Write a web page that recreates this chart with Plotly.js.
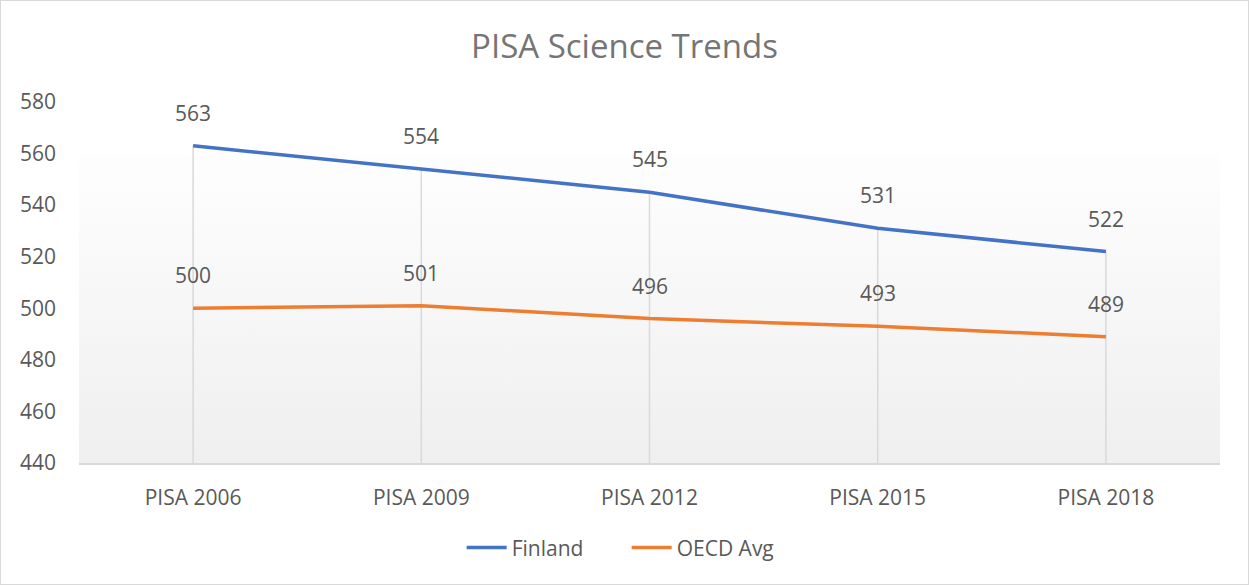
<!DOCTYPE html>
<html>
<head>
<meta charset="utf-8">
<script src="https://cdn.plot.ly/plotly-3.0.1.min.js"></script>
<style>
html,body{margin:0;padding:0;background:#fff;}
#chart{width:1247px;height:583px;border:1px solid #d9d9d9;}
</style>
</head>
<body>
<div id="chart"></div>
<script>
const categories = ["PISA 2006", "PISA 2009", "PISA 2012", "PISA 2015", "PISA 2018"];
const finland = [563, 554, 545, 531, 522];
const oecdAvg = [500, 501, 496, 493, 489];
const yTicks = [440, 460, 480, 500, 520, 540, 560, 580];

const FONT = "Open Sans, Noto Sans, sans-serif";
const LABEL = "#595959";
const yMin = 440, yMax = 580;

const traces = [
  {x: categories, y: finland, name: "Finland", type: "scatter", mode: "lines",
   line: {color: "#4472C4", width: 3.5}, hoverinfo: "y"},
  {x: categories, y: oecdAvg, name: "OECD Avg", type: "scatter", mode: "lines",
   line: {color: "#ED7D31", width: 3.5}, hoverinfo: "y"}
];

const shapes = categories.map((c, i) => ({
  type: "line", xref: "x", yref: "y", x0: c, x1: c, y0: yMin,
  y1: Math.max(finland[i], oecdAvg[i]),
  line: {color: "#d9d9d9", width: 1.5}, layer: "below"
}));

const annotations = [];
[finland, oecdAvg].forEach(series => {
  series.forEach((v, i) => {
    annotations.push({x: categories[i], y: v, xref: "x", yref: "y", text: String(v),
      showarrow: false, yshift: 33, font: {family: FONT, size: 21, color: LABEL}});
  });
});

const grad = 'data:image/svg+xml;utf8,' + encodeURIComponent(
  '<svg xmlns="http://www.w3.org/2000/svg" width="100" height="100" preserveAspectRatio="none">' +
  '<defs><linearGradient id="g" x1="0" y1="0" x2="0" y2="1">' +
  '<stop offset="0" stop-color="#fefefe"/><stop offset="1" stop-color="#efefef"/>' +
  '</linearGradient></defs><rect width="100" height="100" fill="url(#g)"/></svg>');

const layout = {
  width: 1247, height: 583,
  margin: {l: 78, r: 28, t: 101, b: 121},
  paper_bgcolor: "#ffffff", plot_bgcolor: "rgba(0,0,0,0)",
  font: {family: FONT, size: 21, color: LABEL},
  title: {text: "PISA Science Trends", x: 0.5, xref: "container", y: 0.922, yref: "container",
          yanchor: "middle", font: {family: FONT, size: 33, color: "#757575"}},
  xaxis: {type: "category", range: [-0.5, 4.5], showgrid: false, zeroline: false,
          showline: true, linecolor: "#d9d9d9", linewidth: 1.5, ticks: "",
          ticklabelstandoff: 15, tickfont: {family: FONT, size: 21, color: LABEL}, fixedrange: true},
  yaxis: {range: [yMin, yMax], tickvals: yTicks, showgrid: false, zeroline: false,
          showline: false, ticks: "", ticklabelstandoff: 22,
          tickfont: {family: FONT, size: 21, color: LABEL}, fixedrange: true},
  legend: {orientation: "h", x: 0.48, xanchor: "center", y: -0.235, yanchor: "middle",
           font: {family: FONT, size: 21, color: LABEL}, itemwidth: 40, entrywidth: 110,
           tracegroupgap: 0},
  showlegend: true,
  shapes: shapes,
  annotations: annotations,
  images: [{source: grad, xref: "paper", yref: "y", x: 0, y: 560, sizex: 1, sizey: 120,
            xanchor: "left", yanchor: "top", sizing: "stretch", layer: "below"}]
};

Plotly.newPlot("chart", traces, layout, {displayModeBar: false, staticPlot: true});
</script>
</body>
</html>
